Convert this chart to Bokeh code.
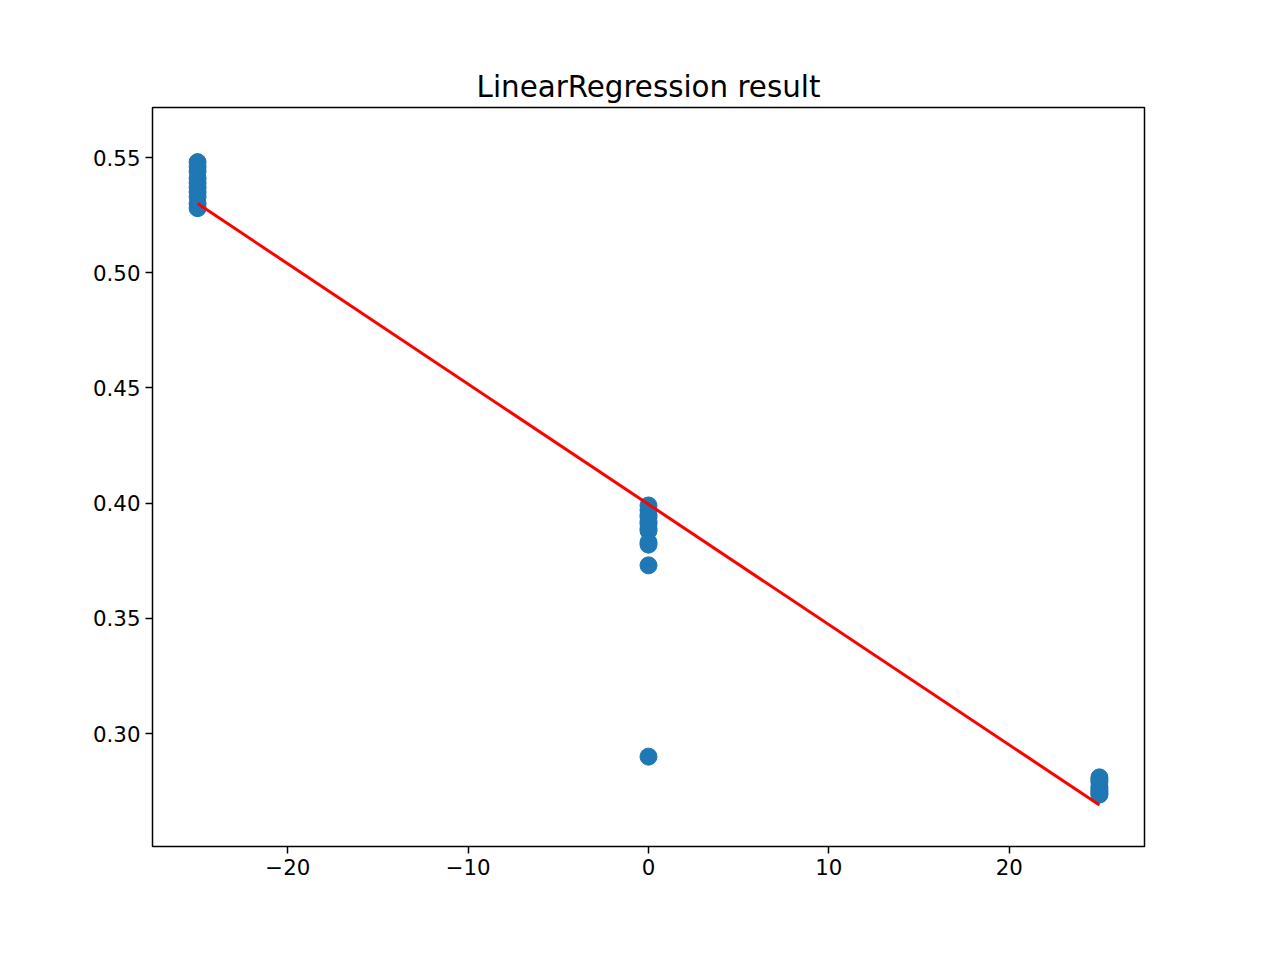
from bokeh.plotting import figure
from bokeh.models import Range1d, FixedTicker
from bokeh.embed import file_html
from bokeh.resources import INLINE

# scattered samples
x_points = [-25] * 10 + [0] * 12 + [25] * 8
y_points = [0.548, 0.546, 0.544, 0.541, 0.539, 0.537, 0.535, 0.533, 0.530, 0.528,
            0.399, 0.397, 0.395, 0.394, 0.392, 0.391, 0.389, 0.388, 0.383, 0.382, 0.373, 0.290,
            0.281, 0.280, 0.279, 0.277, 0.276, 0.275, 0.274, 0.2735]

# fitted line
line_x = [-25, 25]
line_y = [0.530, 0.269]

x_ticks = [-20, -10, 0, 10, 20]
y_ticks = [0.30, 0.35, 0.40, 0.45, 0.50, 0.55]

p = figure(width=1264, height=944, title="LinearRegression result",
           output_backend="svg", toolbar_location=None,
           x_range=Range1d(-27.5, 27.5), y_range=Range1d(0.251, 0.5717),
           min_border_left=152, min_border_right=120,
           min_border_top=107, min_border_bottom=98)

p.scatter(x_points, y_points, size=17, color="#1f77b4")
p.line(line_x, line_y, line_color="red", line_width=3)

p.title.align = "center"
p.title.text_font = "DejaVu Sans"
p.title.text_font_size = "22pt"
p.title.text_font_style = "normal"
p.title.text_color = "black"
p.title.standoff = 8

p.grid.visible = False
p.outline_line_color = "black"
p.outline_line_width = 1.5

p.xaxis.ticker = FixedTicker(ticks=x_ticks)
p.yaxis.ticker = FixedTicker(ticks=y_ticks)
p.xaxis.major_label_overrides = {t: str(t).replace("-", "\u2212") for t in x_ticks}
p.yaxis.major_label_overrides = {t: "%.2f" % t for t in y_ticks}
for ax in (p.xaxis, p.yaxis):
    ax.major_label_text_font = "DejaVu Sans"
    ax.major_label_text_font_size = "16pt"
    ax.major_label_text_color = "black"
    ax.major_tick_out = 7
    ax.major_tick_in = 0
    ax.major_tick_line_color = "black"
    ax.minor_tick_line_color = None
    ax.axis_line_color = None
    ax.major_tick_line_width = 1.5

open("out.html", "w").write(file_html(p, INLINE))
